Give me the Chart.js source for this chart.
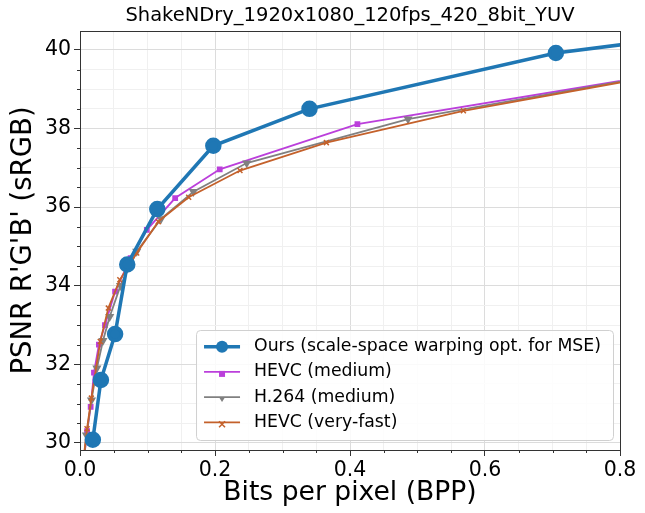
<!DOCTYPE html>
<html lang="en">
<head>
<meta charset="UTF-8" />
<title>ShakeNDry RD curve</title>
<script src="https://cdn.jsdelivr.net/npm/chart.js"></script>
<style>
  html, body { margin: 0; padding: 0; background: #fff; }
  .wrap { position: relative; width: 645px; height: 513px; }
</style>
</head>
<body>
<div class="wrap"><canvas id="rdChart"></canvas></div>
<script>
// values (bpp, PSNR dB)
const oursBpp   = [0.019, 0.031, 0.052, 0.070, 0.1145, 0.1975, 0.340, 0.705, 1.2];
const oursPsnr  = [30.08, 31.60, 32.77, 34.54, 35.95, 37.56, 38.50, 39.92, 41.0];

const hevcMedBpp  = [0.006, 0.0105, 0.0158, 0.0207, 0.028, 0.037, 0.052, 0.075, 0.099, 0.141, 0.207, 0.411, 0.9];
const hevcMedPsnr = [29.6, 30.30, 30.92, 31.79, 32.50, 33.00, 33.85, 34.70, 35.42, 36.23, 36.96, 38.11, 39.49];

const h264Bpp  = [0.006, 0.0095, 0.017, 0.025, 0.034, 0.044, 0.060, 0.084, 0.120, 0.168, 0.247, 0.486, 1.0];
const h264Psnr = [29.6, 30.20, 31.09, 31.90, 32.60, 33.21, 34.00, 34.87, 35.70, 36.39, 37.12, 38.24, 39.80];

const hevcFastBpp  = [0.006, 0.0104, 0.0168, 0.030, 0.042, 0.059, 0.084, 0.116, 0.161, 0.237, 0.365, 0.568, 1.0];
const hevcFastPsnr = [29.7, 30.36, 31.14, 32.58, 33.43, 34.15, 34.83, 35.63, 36.25, 36.93, 37.64, 38.45, 39.79];

const seriesNames = [
  "Ours (scale-space warping opt. for MSE)",
  "HEVC (medium)",
  "H.264 (medium)",
  "HEVC (very-fast)"
];

const chartTitle = "ShakeNDry_1920x1080_120fps_420_8bit_YUV";
const xTickLabels = [0.0, 0.2, 0.4, 0.6, 0.8];
const yTickLabels = [30, 32, 34, 36, 38, 40];

const FONT = "'DejaVu Sans', sans-serif";

function pts(xs, ys) {
  return xs.map((x, i) => ({ x: x, y: ys[i] }));
}
function isMajor(v, list) {
  return list.some(t => Math.abs(t - v) < 1e-6);
}

// draws one legend marker by hand
function drawMarker(ctx, style, x, y, r, color) {
  ctx.fillStyle = color;
  ctx.strokeStyle = color;
  ctx.beginPath();
  if (style === "circle") {
    ctx.arc(x, y, r, 0, Math.PI * 2);
    ctx.fill();
  } else if (style === "rect") {
    ctx.fillRect(x - r, y - r, r * 2, r * 2);
  } else if (style === "triangle") {
    ctx.moveTo(x - r, y - r * 0.6);
    ctx.lineTo(x + r, y - r * 0.6);
    ctx.lineTo(x, y + r);
    ctx.closePath();
    ctx.fill();
  } else {
    ctx.lineWidth = 1.5;
    ctx.moveTo(x - r, y - r); ctx.lineTo(x + r, y + r);
    ctx.moveTo(x + r, y - r); ctx.lineTo(x - r, y + r);
    ctx.stroke();
  }
}

const framePlugin = {
  id: "frameLegend",
  afterDraw(chart) {
    const ctx = chart.ctx;
    const a = chart.chartArea;
    const xs = chart.scales.x, ys = chart.scales.y;
    ctx.save();

    // title centred over the axes
    ctx.fillStyle = "#000";
    ctx.font = "19.5px " + FONT;
    ctx.textAlign = "center";
    ctx.textBaseline = "middle";
    ctx.fillText(chartTitle, (a.left + a.right) / 2, 16);

    // minor ticks
    ctx.strokeStyle = "#333";
    ctx.lineWidth = 1;
    ctx.beginPath();
    for (let v = 0.05; v < 0.8; v += 0.05) {
      if (isMajor(v, xTickLabels)) continue;
      const px = Math.round(xs.getPixelForValue(v)) + 0.5;
      ctx.moveTo(px, a.bottom); ctx.lineTo(px, a.bottom + 3);
    }
    for (let v = 30.5; v < 40.4; v += 0.5) {
      if (isMajor(v, yTickLabels)) continue;
      const py = Math.round(ys.getPixelForValue(v)) + 0.5;
      ctx.moveTo(a.left, py); ctx.lineTo(a.left - 3, py);
    }
    ctx.stroke();

    // full frame
    ctx.strokeRect(Math.round(a.left) + 0.5, Math.round(a.top) + 0.5,
                   Math.round(a.right - a.left), Math.round(a.bottom - a.top));

    // legend box, lower right
    ctx.font = "17.3px " + FONT;
    const rowH = 25.2;
    let textW = 0;
    chart.data.datasets.forEach(d => { textW = Math.max(textW, ctx.measureText(d.label).width); });
    const bw = 8 + 36 + 14 + textW + 12;
    const bh = rowH * 4 + 9.2;
    const bx = a.right - 7 - bw;
    const by = a.bottom - 10 - bh;
    ctx.fillStyle = "rgba(255,255,255,0.85)";
    ctx.strokeStyle = "#d0d0d0";
    ctx.beginPath();
    ctx.roundRect(bx + 0.5, by + 0.5, bw, bh, 4);
    ctx.fill();
    ctx.stroke();

    chart.data.datasets.forEach((d, i) => {
      const cy = by + 16.7 + i * rowH;
      ctx.strokeStyle = d.borderColor;
      ctx.lineWidth = d.borderWidth;
      ctx.beginPath();
      ctx.moveTo(bx + 8, cy); ctx.lineTo(bx + 44, cy);
      ctx.stroke();
      drawMarker(ctx, d.pointStyle, bx + 26, cy + (i === 0 ? 0 : 2), i === 0 ? 6 : 3, d.borderColor);
      ctx.fillStyle = "#000";
      ctx.textBaseline = "middle";
      ctx.textAlign = "left";
      ctx.fillText(d.label, bx + 58, cy);
    });
    ctx.restore();
  }
};

const gridColor = ctx => ctx.tick && (ctx.scale.axis === "x"
  ? isMajor(ctx.tick.value, xTickLabels) : isMajor(ctx.tick.value, yTickLabels)) ? "#dcdcdc" : "#f0f0f0";
const tickColor = ctx => ctx.tick && (ctx.scale.axis === "x"
  ? isMajor(ctx.tick.value, xTickLabels) : isMajor(ctx.tick.value, yTickLabels)) ? "#333" : "rgba(0,0,0,0)";

new Chart(document.getElementById("rdChart"), {
  type: "line",
  data: {
    datasets: [
      {
        label: seriesNames[0],
        data: pts(oursBpp, oursPsnr),
        borderColor: "#1f77b4", backgroundColor: "#1f77b4",
        borderWidth: 3.5, pointStyle: "circle", pointRadius: 6.5, pointHoverRadius: 6.5,
        order: 1
      },
      {
        label: seriesNames[1],
        data: pts(hevcMedBpp, hevcMedPsnr),
        borderColor: "#bb3fdb", backgroundColor: "#bb3fdb",
        borderWidth: 1.8, pointStyle: "rect", pointRadius: 2.8,
        order: 4
      },
      {
        label: seriesNames[2],
        data: pts(h264Bpp, h264Psnr),
        borderColor: "#808080", backgroundColor: "#808080",
        borderWidth: 1.8, pointStyle: "triangle", rotation: 180, pointRadius: 3.5,
        order: 3
      },
      {
        label: seriesNames[3],
        data: pts(hevcFastBpp, hevcFastPsnr),
        borderColor: "#c4612b", backgroundColor: "#c4612b",
        borderWidth: 1.8, pointStyle: "crossRot", pointRadius: 3.5, pointBorderWidth: 1.5,
        order: 2
      }
    ]
  },
  options: {
    responsive: true,
    maintainAspectRatio: false,
    animation: false,
    devicePixelRatio: 1,
    layout: { padding: { left: 0, right: 25, top: 31, bottom: 0 } },
    plugins: {
      legend: { display: false },
      tooltip: { enabled: false },
      title: { display: false }
    },
    scales: {
      x: {
        type: "linear",
        min: 0, max: 0.8,
        afterFit: s => { s.height = 63; },
        ticks: {
          stepSize: 0.05, includeBounds: false, autoSkip: false, maxRotation: 0,
          color: "#000", padding: 2,
          font: { family: FONT, size: 20.5 },
          callback: v => isMajor(v, xTickLabels) ? v.toFixed(1) : ""
        },
        grid: { color: gridColor, tickColor: tickColor, tickLength: 6 },
        border: { color: "#333" },
        title: {
          display: true, text: "Bits per pixel (BPP)", color: "#000",
          font: { family: FONT, size: 26.6 }, padding: { bottom: 4 }
        }
      },
      y: {
        type: "linear",
        min: 29.82, max: 40.48,
        afterFit: s => { s.width = 80; },
        ticks: {
          stepSize: 0.5, includeBounds: false, autoSkip: false,
          color: "#000", padding: 3,
          font: { family: FONT, size: 20.5 },
          callback: v => isMajor(v, yTickLabels) ? String(v) : ""
        },
        grid: { color: gridColor, tickColor: tickColor, tickLength: 6 },
        border: { color: "#333" },
        title: {
          display: true, text: "PSNR R'G'B' (sRGB)", color: "#000",
          font: { family: FONT, size: 27.5 }, padding: { top: 7.5 }
        }
      }
    }
  },
  plugins: [framePlugin]
});
</script>
</body>
</html>
